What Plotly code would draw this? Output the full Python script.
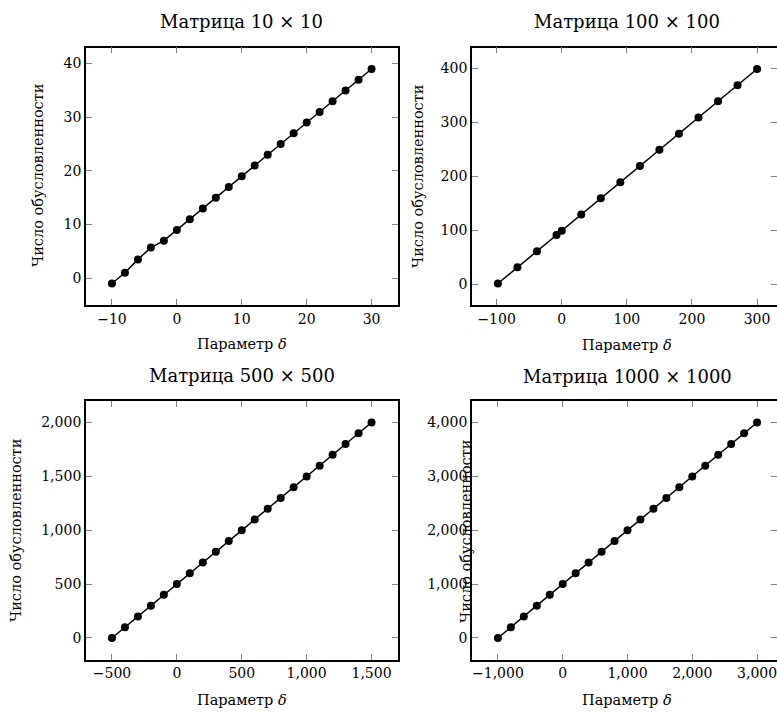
import plotly.graph_objects as go

W, H = 777, 713
FONT = "DejaVu Serif"

# ---- data ----
titles = ["Матрица 10 × 10", "Матрица 100 × 100", "Матрица 500 × 500", "Матрица 1000 × 1000"]
x_label = "Параметр <i>δ</i>"
y_label = "Число обусловленности"

delta_10 = [-10, -8, -6, -4, -2, 0, 2, 4, 6, 8, 10, 12, 14, 16, 18, 20, 22, 24, 26, 28, 30]
cond_10 = [-1, 1, 3.5, 5.7, 7.0, 9, 11, 13, 15, 17, 19, 21, 23, 25, 27, 29, 31, 33, 35, 37, 39]

delta_100 = [-98, -68, -38, -8, 0, 30, 60, 90, 120, 150, 180, 210, 240, 270, 300]
cond_100 = [1, 31, 61, 91, 99, 129, 159, 189, 219, 249, 279, 309, 339, 369, 399]

delta_500 = [-500, -400, -300, -200, -100, 0, 100, 200, 300, 400, 500, 600, 700, 800,
             900, 1000, 1100, 1200, 1300, 1400, 1500]
cond_500 = [-1, 99, 199, 299, 399, 499, 599, 699, 799, 899, 999, 1099, 1199, 1299,
            1399, 1499, 1599, 1699, 1799, 1899, 1999]

delta_1000 = [-1000, -800, -600, -400, -200, 0, 200, 400, 600, 800, 1000, 1200, 1400, 1600,
              1800, 2000, 2200, 2400, 2600, 2800, 3000]
cond_1000 = [-1, 199, 399, 599, 799, 999, 1199, 1399, 1599, 1799, 1999, 2199, 2399, 2599,
             2799, 2999, 3199, 3399, 3599, 3799, 3999]

xticks = [[-10, 0, 10, 20, 30], [-100, 0, 100, 200, 300], [-500, 0, 500, 1000, 1500],
          [-1000, 0, 1000, 2000, 3000]]
yticks = [[0, 10, 20, 30, 40], [0, 100, 200, 300, 400], [0, 500, 1000, 1500, 2000],
          [0, 1000, 2000, 3000, 4000]]
xranges = [[-14, 34], [-137.8, 330.6], [-700, 1700], [-1400, 3307.4]]
yranges = [[-5, 43], [-38.8, 438.8], [-201, 2199], [-401, 4399]]

series = [(delta_10, cond_10), (delta_100, cond_100), (delta_500, cond_500), (delta_1000, cond_1000)]

# ---- layout geometry (pixels) ----
box_x = [(86, 397.5), (472, 777), (86, 397.5), (472, 777)]
box_y = [(47.5, 305), (47.5, 305), (401, 659.5), (401, 659.5)]

fig = go.Figure()

for i, (xs, ys) in enumerate(series):
    k = "" if i == 0 else str(i + 1)
    fig.add_trace(go.Scatter(
        x=xs, y=ys, mode="lines+markers", xaxis="x" + k, yaxis="y" + k,
        line=dict(color="black", width=1.5),
        marker=dict(color="black", size=8),
        showlegend=False, hoverinfo="skip", cliponaxis=False))

tick_common = dict(ticks="inside", ticklen=6, tickwidth=1, tickcolor="#808080",
                   showgrid=False, zeroline=False, showline=True, linecolor="black",
                   linewidth=1.8, tickformat=",", ticklabeloverflow="allow",
                   tickfont=dict(family=FONT, size=14, color="black"))

layout = dict(width=W, height=H, margin=dict(l=0, r=0, t=0, b=0),
              paper_bgcolor="white", plot_bgcolor="white", showlegend=False)

for i in range(4):
    k = "" if i == 0 else str(i + 1)
    x0, x1 = box_x[i]
    y0, y1 = box_y[i]
    right_col = i in (1, 3)
    layout["xaxis" + k] = dict(tick_common, domain=[x0 / W, x1 / W], range=xranges[i],
                               tickmode="array", tickvals=xticks[i], mirror="ticks",
                               anchor="y" + k)
    layout["yaxis" + k] = dict(tick_common, domain=[1 - y1 / H, 1 - y0 / H], range=yranges[i],
                               tickmode="array", tickvals=yticks[i],
                               mirror=False if right_col else "ticks",
                               anchor="x" + k)

# right-side inner ticks for panels whose right border falls outside the picture
for j, base in enumerate(["2", "4"]):
    name = str(5 + j)
    layout["yaxis" + name] = dict(overlaying="y" + base, matches="y" + base, side="right",
                                  anchor="x" + base, ticks="inside", ticklen=6, tickwidth=1,
                                  tickcolor="#808080", showticklabels=False, showline=False,
                                  showgrid=False, zeroline=False, tickmode="array",
                                  tickvals=yticks[int(base) - 1])
    fig.add_trace(go.Scatter(x=[None], y=[None], xaxis="x" + base, yaxis="y" + name,
                             mode="markers", showlegend=False, hoverinfo="skip"))

ann = []
title_pos = [(241.5, 21), (627, 21), (241.5, 375.5), (627, 376)]
xlab_pos = [(241.5, 344), (627, 345), (241.5, 700), (627, 700)]
ylab_pos = [(38, 176), (418, 176), (16, 531), (466, 531)]
for i in range(4):
    tx, ty = title_pos[i]
    ann.append(dict(text=titles[i], x=tx / W, y=1 - ty / H, xref="paper", yref="paper",
                    xanchor="center", yanchor="middle", showarrow=False,
                    font=dict(family=FONT, size=18, color="black")))
    lx, ly = xlab_pos[i]
    ann.append(dict(text=x_label, x=lx / W, y=1 - ly / H, xref="paper", yref="paper",
                    xanchor="center", yanchor="middle", showarrow=False,
                    font=dict(family=FONT, size=14.5, color="black")))
    yx, yy = ylab_pos[i]
    ann.append(dict(text=y_label, x=yx / W, y=1 - yy / H, xref="paper", yref="paper",
                    xanchor="center", yanchor="middle", showarrow=False, textangle=-90,
                    font=dict(family=FONT, size=14.5, color="black")))
layout["annotations"] = ann

fig.update_layout(**layout)
fig.write_html("out.html", config={"displayModeBar": False},
               post_script="document.body.style.margin='0px';"
                           "document.body.style.overflow='hidden';")
